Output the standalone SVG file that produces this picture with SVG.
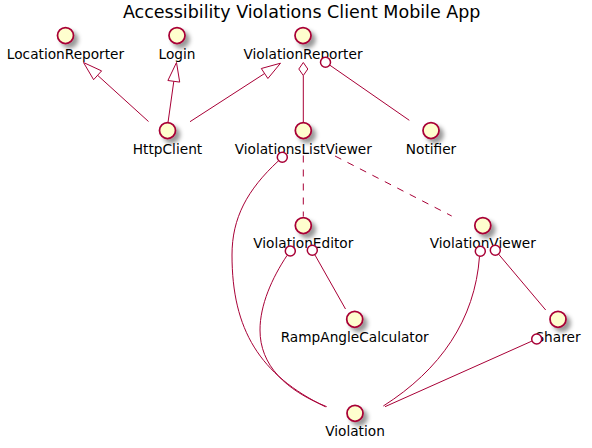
<svg xmlns="http://www.w3.org/2000/svg" width="592" height="448" viewBox="0 0 592 448">
<defs>
<filter id="sh" x="-1" y="-1" width="300%" height="300%">
<feGaussianBlur result="b1" stdDeviation="2"/>
<feColorMatrix in="b1" result="b2" type="matrix" values="0 0 0 0 0 0 0 0 0 0 0 0 0 0 0 0 0 0 .4 0"/>
<feOffset dx="4" dy="4" in="b2" result="b3"/>
<feBlend in="SourceGraphic" in2="b3" mode="normal"/>
</filter>
</defs>
<style>
.n{fill:#FEFECE;stroke:#A80036;stroke-width:1.75;filter:url(#sh)}
.t{font-family:"DejaVu Sans",sans-serif;font-size:13.7px;fill:#000;text-anchor:middle}
.title{font-family:"DejaVu Sans",sans-serif;font-size:17.5px;fill:#000;text-anchor:middle}
.e{fill:none;stroke:#A80036;stroke-width:1}
.d{fill:none;stroke:#A80036;stroke-width:1;stroke-dasharray:7,7}
.h{fill:#FFFFFF;stroke:#A80036;stroke-width:1}
.l{fill:#FFFFFF;stroke:#A80036;stroke-width:1.5}
</style>
<rect width="592" height="448" fill="#FFFFFF"/>
<text class="title" x="301.7" y="18">Accessibility Violations Client Mobile App</text>
<g id="LocationReporter"><circle class="n" cx="65.5" cy="35.5" r="8"/><text class="t" x="65.5" y="58.5">LocationReporter</text></g>
<g id="Login"><circle class="n" cx="177" cy="35.5" r="8"/><text class="t" x="177" y="58.5">Login</text></g>
<g id="ViolationReporter"><circle class="n" cx="303" cy="35.5" r="8"/><text class="t" x="303" y="58.5">ViolationReporter</text></g>
<g id="HttpClient"><circle class="n" cx="167.5" cy="130.5" r="8"/><text class="t" x="167.5" y="153.5">HttpClient</text></g>
<g id="ViolationsListViewer"><circle class="n" cx="303.3" cy="130.5" r="8"/><text class="t" x="303.3" y="153.5">ViolationsListViewer</text></g>
<g id="Notifier"><circle class="n" cx="431" cy="130.5" r="8"/><text class="t" x="431" y="153.5">Notifier</text></g>
<g id="ViolationEditor"><circle class="n" cx="303.3" cy="225.5" r="8"/><text class="t" x="303.3" y="248">ViolationEditor</text></g>
<g id="ViolationViewer"><circle class="n" cx="482.8" cy="225.5" r="8"/><text class="t" x="482.8" y="248">ViolationViewer</text></g>
<g id="RampAngleCalculator"><circle class="n" cx="354.7" cy="319.3" r="8"/><text class="t" x="354.7" y="342">RampAngleCalculator</text></g>
<g id="Sharer"><circle class="n" cx="558" cy="319.3" r="8"/><text class="t" x="558" y="342">Sharer</text></g>
<g id="Violation"><circle class="n" cx="355" cy="413.3" r="8"/><text class="t" x="355" y="436">Violation</text></g>
<g id="connectors">
<line class="e" x1="148.5" y1="121.5" x2="97.6" y2="75.3"/>
<polygon class="h" points="83.5,62.5 93.6,79.7 101.6,70.9"/>
<line class="e" x1="168" y1="122.5" x2="173.8" y2="81.3"/>
<polygon class="h" points="176.5,62.5 167.9,80.5 179.7,82.1"/>
<line class="e" x1="190" y1="121.7" x2="264.6" y2="73.5"/>
<polygon class="h" points="280.5,63.2 261.3,68.5 267.9,78.5"/>
<line class="e" x1="303.3" y1="75.5" x2="303.3" y2="122.5"/>
<polygon class="h" points="303.3,62.5 298.8,69 303.3,75.5 307.8,69"/>
<line class="e" x1="329.6" y1="65" x2="409.3" y2="120.3"/>
<circle class="l" cx="325.5" cy="62.2" r="5"/>
<path class="e" d="M278.5,160.8 C247,190 232,218 232,255 C232,330 260,375 325.5,406.8"/>
<circle class="l" cx="282.3" cy="157.3" r="5"/>
<line class="d" x1="303.3" y1="155.5" x2="303.3" y2="216.5"/>
<line class="d" x1="335" y1="156" x2="451.7" y2="216"/>
<path class="e" d="M287,255.5 C272,278 260,305 260,330 C260,365 285,390 326.7,406.7"/>
<circle class="l" cx="290.3" cy="251" r="5"/>
<line class="e" x1="314.8" y1="254.7" x2="345.5" y2="309"/>
<circle class="l" cx="312.3" cy="250.3" r="5"/>
<path class="e" d="M479.5,256.3 C475,320 440,370 383.3,406"/>
<circle class="l" cx="480.3" cy="251.3" r="5"/>
<line class="e" x1="498.5" y1="254.1" x2="545.7" y2="310"/>
<circle class="l" cx="495.3" cy="250.3" r="5"/>
<line class="e" x1="532.1" y1="341" x2="385" y2="406.7"/>
<circle class="l" cx="536.7" cy="339" r="5"/>
</g>
</svg>
